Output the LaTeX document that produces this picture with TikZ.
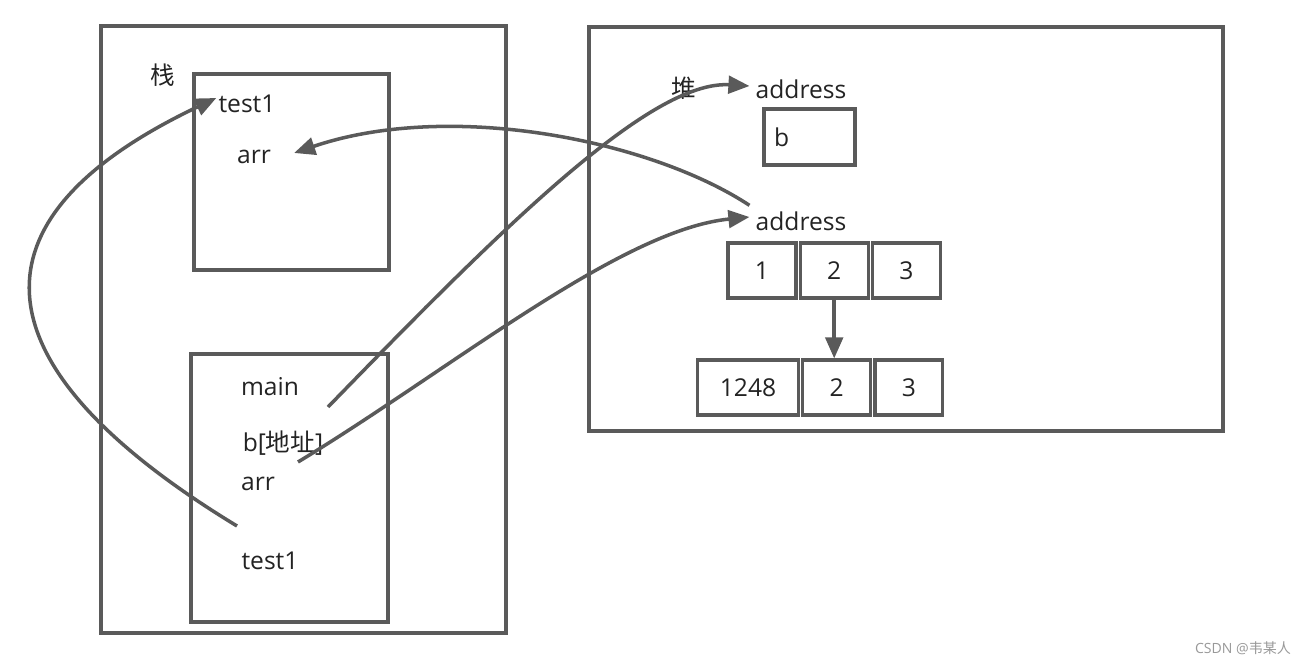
\documentclass[tikz,border=0pt]{standalone}
\usepackage{fontspec}
\setmainfont{Open Sans}
\newfontfamily\cjk{Noto Sans CJK SC}
\usetikzlibrary{positioning,arrows.meta}
\definecolor{linegray}{RGB}{90,90,90}
\definecolor{textdark}{RGB}{35,35,35}

\begin{document}
\begin{tikzpicture}[x=0.02cm,y=-0.02cm,>={Triangle[length=12pt,width=10pt]},
   every node/.style={font=\fontsize{14}{16}\selectfont,text=textdark},
   frame/.style={draw=linegray,line width=1.8pt,inner sep=0pt},
   cell/.style={draw=linegray,line width=1.8pt,minimum height=1.1cm,minimum width=1.36cm,inner sep=0pt},
   link/.style={->,draw=linegray,line width=2pt}]
\useasboundingbox (0,0) rectangle (1302,665);
% stack side
\node[frame,minimum width=8.1cm,minimum height=12.14cm] (stack) at (303.5,329.5) {};
\node[frame,minimum width=3.9cm,minimum height=3.92cm] (test1frame) at (291.5,172) {};
\node[frame,minimum width=3.94cm,minimum height=5.36cm] (mainframe) at (289.5,488) {};
\node (stacklabel) at (163,75) {\cjk 栈};
\node (test1a) at (247,104) {test1};
\node (arra) at (254,157) {arr};
\node (mainb) at (270,387) {main};
\node (bptr) at (283,443) {b[{\cjk 地址}]};
\node (arrb) at (258,484) {arr};
\node (test1b) at (270,561) {test1};
\coordinate (t1src) at (237,526);
\coordinate (bsrc) at (328,407);
\coordinate (arrsrc) at (298,462);
% heap side
\node[frame,minimum width=12.68cm,minimum height=8.08cm] (heap) at (906,229) {};
\node (heaplabel) at (684,88) {\cjk 堆};
\node (addr1) at (801,89) {address};
\node[cell,minimum width=1.82cm,minimum height=1.12cm,text width=1.42cm,align=left,inner xsep=0.2cm] (bbox) at (809.5,137) {b};
\node (addr2) at (801,221) {address};
\node[cell] (a1) at (762,270.5) {1};
\node[cell,right=0.6pt of a1] (a2) {2};
\node[cell,right=0.6pt of a2] (a3) {3};
\node[cell,minimum width=2.02cm] (n1) at (748,387.5) {1248};
\node[cell,right=0.6pt of n1] (n2) {2};
\node[cell,right=0.6pt of n2] (n3) {3};
\node[font=\fontsize{8}{9}\selectfont,text=gray!80] (mark) at (1243,648) {CSDN @{\cjk 韦某人}};
% links
\draw[link] (t1src) .. controls (-20,370) and (-45,222) .. ([shift={(4,-6)}]test1a.west);
\draw[link] (bsrc) .. controls (500,230) and (650,80) .. ([shift={(0,-3)}]addr1.west);
\draw[link] (arrsrc) .. controls (450,370) and (620,230) .. ([shift={(0,-4)}]addr2.west);
\draw[link] (addr2.north west) .. controls (650,140) and (450,100) .. ([shift={(17,-4)}]arra.east);
\draw[link] (a2.south) -- (a2.south |- n2.north);
\end{tikzpicture}
\end{document}
